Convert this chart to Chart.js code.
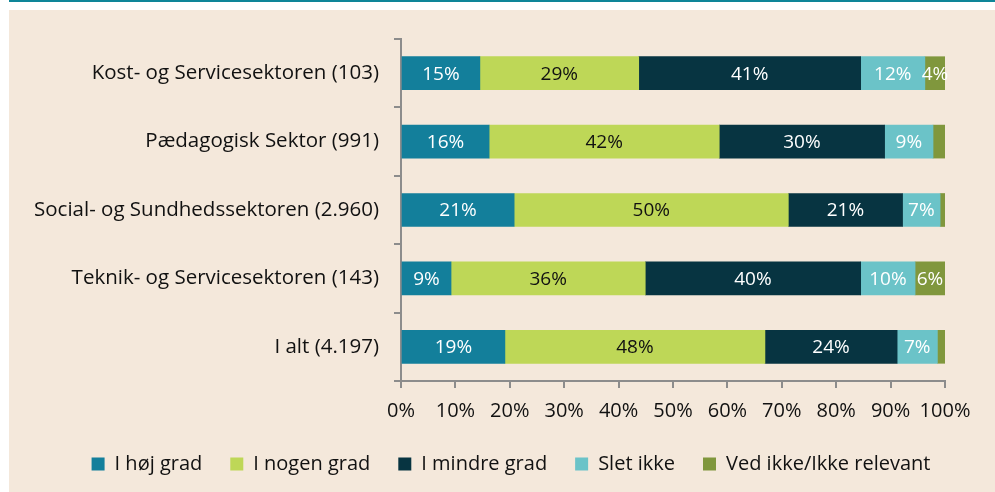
<!DOCTYPE html>
<html>
<head>
<meta charset="utf-8">
<script src="https://cdn.jsdelivr.net/npm/chart.js@4"></script>
<style>
  body { margin: 0; background: #fff; width: 995px; height: 492px; overflow: hidden; }
  #topline { position: absolute; left: 9px; top: 0; width: 986px; height: 2px; background: #0e8598; }
  #panel { position: absolute; left: 9px; top: 10px; width: 986px; height: 482px; background: #f4e8db; }
</style>
</head>
<body>
<div id="topline"></div>
<div id="panel"><canvas id="chart" width="986" height="482"></canvas></div>
<script>
const categories = [
  "Kost- og Servicesektoren (103)",
  "Pædagogisk Sektor (991)",
  "Social- og Sundhedssektoren (2.960)",
  "Teknik- og Servicesektoren (143)",
  "I alt (4.197)"
];
const hojGrad = [14.5, 16.2, 20.8, 9.2, 19.1];
const nogenGrad = [29.2, 42.3, 50.4, 35.7, 47.8];
const mindreGrad = [40.8, 30.4, 21.0, 39.6, 24.3];
const sletIkke = [11.8, 8.9, 6.9, 10.0, 7.4];
const vedIkke = [3.7, 2.2, 0.9, 5.5, 1.4];
const xTicks = [0, 10, 20, 30, 40, 50, 60, 70, 80, 90, 100];

const font = "'Open Sans', sans-serif";

// draws the rounded percentages inside the bars, small segments get none
const labelPlugin = {
  id: "barLabels",
  afterDatasetsDraw(chart) {
    const ctx = chart.ctx;
    ctx.save();
    ctx.font = "19px " + font;
    ctx.textAlign = "center";
    ctx.textBaseline = "middle";
    chart.data.datasets.forEach(function (ds, i) {
      const meta = chart.getDatasetMeta(i);
      meta.data.forEach(function (bar, j) {
        const v = ds.data[j];
        if (v < 3) return;
        ctx.fillStyle = ds.labelColor;
        ctx.fillText(Math.round(v) + "%", (bar.x + bar.base) / 2, bar.y + 1);
      });
    });
    ctx.restore();
  }
};

// legend in the original sits a bit right of the canvas centre
const legendShift = {
  id: "legendShift",
  afterLayout(chart) {
    chart.legend.left += 34;
    chart.legend.right += 34;
  }
};

function ds(label, data, color, labelColor) {
  return {
    label: label,
    data: data,
    backgroundColor: color,
    labelColor: labelColor,
    barThickness: 33,
    borderWidth: 0
  };
}

new Chart("chart", {
  type: "bar",
  data: {
    labels: categories,
    datasets: [
      ds("I høj grad", hojGrad, "#137f9b", "#ffffff"),
      ds("I nogen grad", nogenGrad, "#bed757", "#111111"),
      ds("I mindre grad", mindreGrad, "#073441", "#ffffff"),
      ds("Slet ikke", sletIkke, "#6bc3c8", "#ffffff"),
      ds("Ved ikke/Ikke relevant", vedIkke, "#80973d", "#ffffff")
    ]
  },
  options: {
    indexAxis: "y",
    responsive: false,
    animation: false,
    layout: { padding: { top: 29, right: 50, bottom: 8, left: 0 } },
    scales: {
      x: {
        stacked: true,
        min: 0,
        max: 100,
        afterBuildTicks: function (scale) {
          scale.ticks = xTicks.map(function (v) { return { value: v }; });
        },
        afterFit: function (scale) { scale.height = 45; },
        ticks: {
          callback: function (v) { return v + "%"; },
          color: "#111",
          font: { family: font, size: 20 },
          padding: 11,
          maxRotation: 0,
          autoSkip: false
        },
        grid: { drawOnChartArea: false, color: "#8c8c8c", tickLength: 7, lineWidth: 2 },
        border: { color: "#8c8c8c", width: 2 }
      },
      y: {
        stacked: true,
        afterFit: function (scale) { scale.width = 392; },
        ticks: {
          color: "#111",
          font: { family: font, size: 20.5 },
          padding: 15
        },
        grid: { drawOnChartArea: false, color: "#8c8c8c", tickLength: 7, lineWidth: 2, offset: true },
        border: { color: "#8c8c8c", width: 2 }
      }
    },
    plugins: {
      legend: {
        position: "bottom",
        labels: {
          color: "#111",
          font: { family: font, size: 20 },
          boxWidth: 13,
          boxHeight: 13,
          padding: 28
        }
      },
      tooltip: { enabled: false }
    }
  },
  plugins: [labelPlugin, legendShift]
});
</script>
</body>
</html>
